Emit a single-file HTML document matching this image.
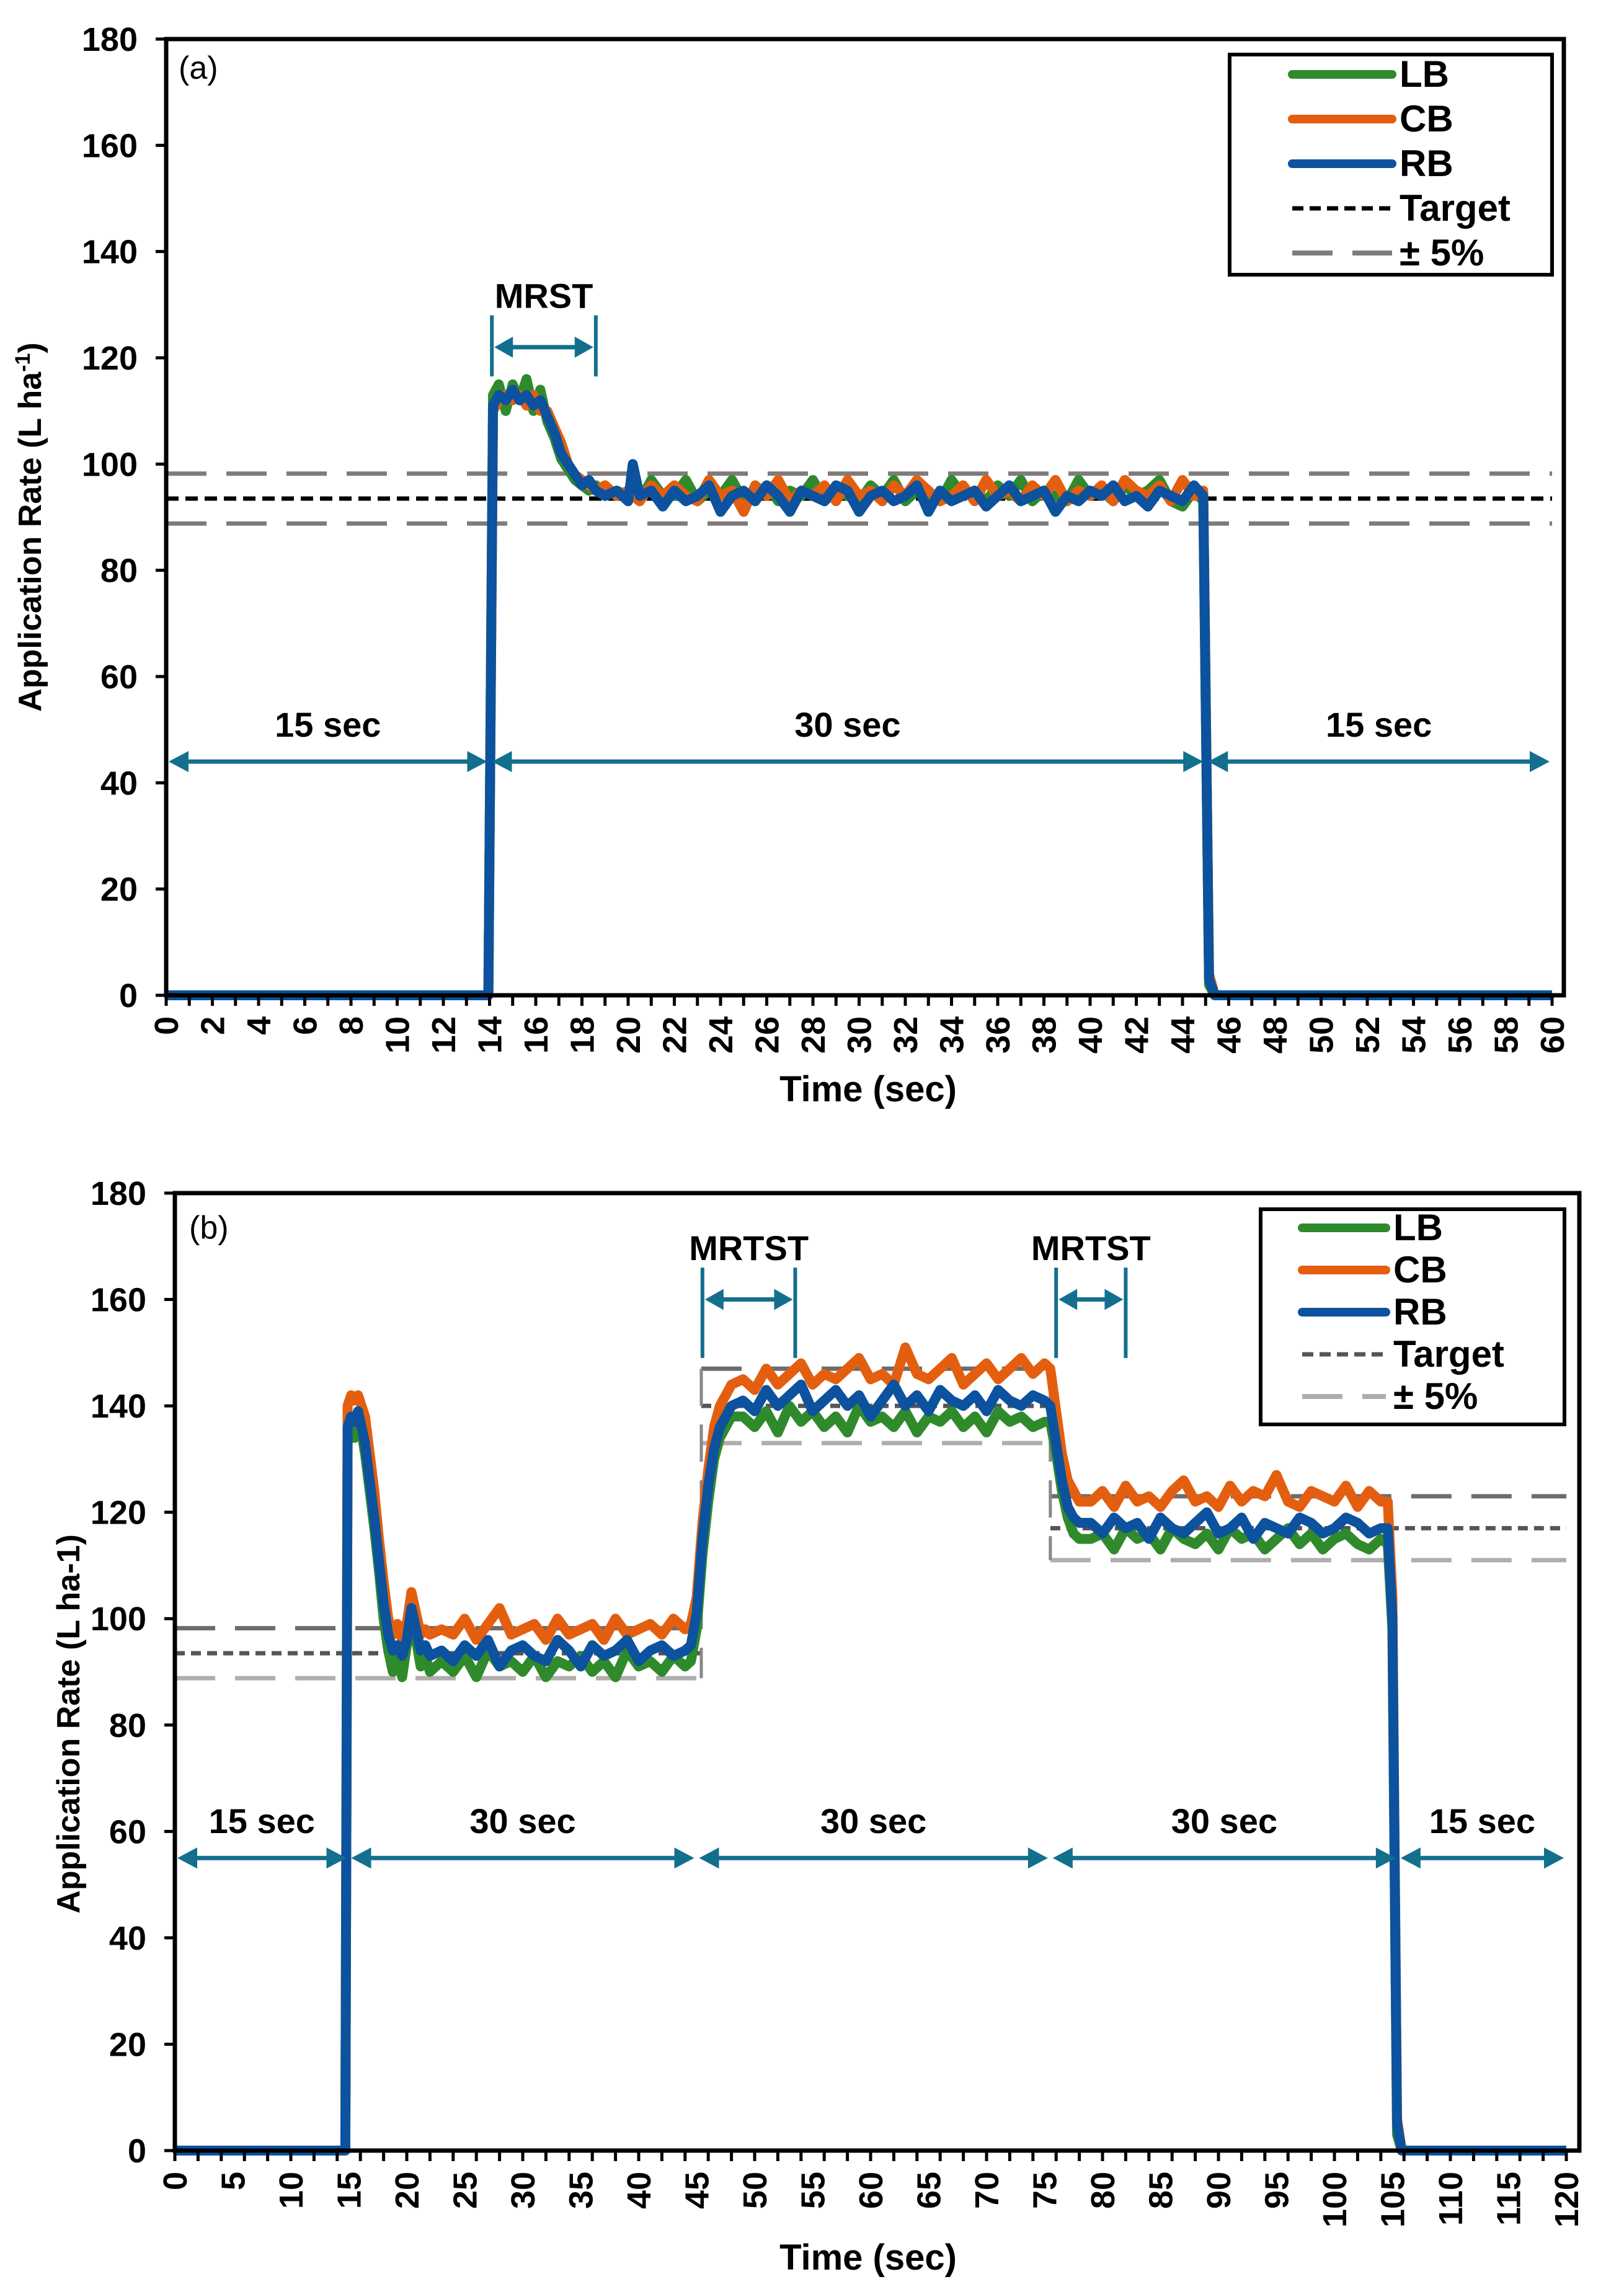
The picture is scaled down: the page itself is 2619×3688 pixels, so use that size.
<!DOCTYPE html>
<html><head><meta charset="utf-8"><style>
html,body{margin:0;padding:0;background:#fff}
svg{display:block}
.tk{font-family:"Liberation Sans Narrow","Liberation Sans",sans-serif;font-weight:bold;font-size:54px;fill:#000}
.tt{font-family:"Liberation Sans",sans-serif;font-weight:bold;font-size:52px;fill:#000}
.an{font-family:"Liberation Sans Narrow","Liberation Sans",sans-serif;font-weight:bold;font-size:56px;fill:#000}
</style></head><body>
<svg id="fig" width="2619" height="3688" viewBox="0 0 2619 3688" xmlns="http://www.w3.org/2000/svg"></svg>
<script>
// ---------- Chart (a) data ----------
const tA=[0,13.95,14.15,14.4,14.7, 15,15.3,15.6,15.9,16.2, 16.5,16.8,17.1,17.4,17.7, 18,18.3,18.6,19,19.5, 20,20.2,20.5,21,21.5,
22,22.5,23,23.5,24,24.5,25,25.5,26,26.5,27,27.5,28,28.5,29,29.5,30,30.5,31,31.5,32,32.5,33,33.5,34,34.5,35,35.5,36,36.5,37,37.5,38,38.5,39,39.5,40,40.5,41,41.5,42,42.5,43,43.5,44,44.5,
44.9,45.15,45.4,60];
const lbA=[0,0,113,115,110, 115,112,116,110,114, 108,105,101,99,97, 96,95,96,94,95, 94,96,93,97,94,
94,97,93,95,94,97,93,94,96,93, 95,94,97,93,95,94,93,96,94,97, 93,95,94,93,97,94,95,93,96,94, 97,93,95,94,93,97,94,95,93,96, 94,95,97,93,92,95,
93,2,0,0];
const cbA=[0,0,110,112,113, 112,113,111,113,110, 110,107,104,100,98, 97,96,95,96,94, 95,94,93,96,94,
96,94,93,97,94,95,91,96,94,97, 93,95,94,96,93,97,94,95,93,96, 94,97,95,93,94,96,93,97,94,95, 93,96,94,97,93,95,94,96,93,97, 95,94,96,93,97,94,
95,4,0,0];
const rbA=[0,0,111,113,112, 114,112,113,111,112, 109,106,102,100,98, 96,97,95,94,95, 93,100,94,95,92,
95,93,94,96,91,94,95,93,96,94, 91,95,94,93,96,95,91,94,95,93, 94,96,91,95,93,94,95,92,94,96, 93,94,95,91,94,93,95,94,96,93, 94,92,95,94,93,96,
94,3,0,0];
const refStartA=[0], refEndA=[60], targetA=[93.5], upperA=[98.2], lowerA=[88.8];
const yTicks=[0,20,40,60,80,100,120,140,160,180];
const xLabelsA=[0,2,4,6,8,10,12,14,16,18,20,22,24,26,28,30,32,34,36,38,40,42,44,46,48,50,52,54,56,58,60];

// ---------- Chart (b) data ----------
const tB=[0,14.7,14.9,15.2,15.5,15.8,16.1,16.4,16.8,17.2,17.6,18,18.4,18.8,19.2,19.6,20,20.4,20.8,21.2,21.6,22,
23,24,25,26,27,28,29,30,31,32,33,34,35,36,37,38,39,40,41,42,43,44,
44.5,45,45.5,46,46.5,47,47.5,48,
49,50,51,52,53,54,55,56,57,58,59,60,61,62,63,64,65,66,67,68,69,70,71,72,73,74,75,
75.5,76,76.5,77,77.5,78,
79,80,81,82,83,84,85,86,87,88,89,90,91,92,93,94,95,96,97,98,99,100,101,102,103,104,
104.6,105,105.4,105.8,120];
const lbB=[0,0,133,136,134,137,135,131,124,117,109,100,94,90,93,89,95,100,96,91,93,90,
92,90,93,89,94,91,92,90,93,89,92,91,93,90,92,89,94,91,92,90,93,91,
92,98,112,122,130,134,136,138,
138,136,139,135,140,137,139,136,138,135,140,137,138,136,139,135,138,137,139,136,138,135,139,137,138,136,137,
137,131,124,119,116,115,
115,116,113,117,115,116,113,117,115,114,116,113,117,115,116,113,115,117,114,116,113,115,116,114,113,115,
114,98,3,0,0];
const cbB=[0,0,140,142,141,142,140,138,131,124,115,107,100,97,99,96,99,105,101,97,98,97,
98,97,100,96,99,102,97,98,99,96,100,97,98,99,96,100,97,98,99,97,100,98,
99,104,118,128,136,140,142,144,
145,143,147,144,146,148,144,146,145,147,149,145,146,144,151,146,145,147,149,144,146,148,145,147,149,146,148,
147,139,131,126,124,122,
122,124,121,125,122,123,121,124,126,122,123,121,125,122,124,123,127,122,121,124,123,122,125,121,124,122,
122,104,6,0,0];
const rbB=[0,0,136,138,137,139,136,133,126,119,111,103,97,94,95,93,96,102,98,94,95,93,
94,92,95,93,96,91,94,95,93,92,96,94,91,95,93,94,96,92,94,95,93,94,
95,101,115,125,132,136,138,140,
141,139,143,140,142,144,139,141,143,140,142,138,141,144,140,142,139,143,141,140,142,139,143,141,140,142,141,
140,133,126,121,119,118,
118,116,119,117,118,115,119,117,116,118,120,116,117,119,115,118,117,116,119,118,116,117,119,118,116,117,
117,100,5,0,0];
const refStartB=[0,45.4,75.5], refEndB=[45.4,75.5,120];
const targetB=[93.5,140,117], upperB=[98.2,147,123], lowerB=[88.8,133,111];
const xLabelsB=[0,5,10,15,20,25,30,35,40,45,50,55,60,65,70,75,80,85,90,95,100,105,110,115,120];
const phaseBoundsA=[0,14,45,60], phaseTextA=["15 sec","30 sec","15 sec"];
const phaseBoundsB=[0,15,45,75.5,105.5,120], phaseTextB=["15 sec","30 sec","30 sec","30 sec","15 sec"];

const NS="http://www.w3.org/2000/svg";
const svg=document.getElementById('fig');
const TEAL="#136f8e";
function mk(tag,attrs,parent){const e=document.createElementNS(NS,tag);for(const k in attrs)e.setAttribute(k,attrs[k]);(parent||svg).appendChild(e);return e;}

function chart(cfg){
  const g=mk('g',{});
  
  
  const X=v=>cfg.x0+(v-cfg.xmin)/(cfg.xmax-cfg.xmin)*(cfg.xE-cfg.x0);
  const Y=v=>cfg.y0-(v/180)*(cfg.y0-cfg.yTop);
  for(let i=0;i<cfg.refS.length;i++){
    const lines=[[cfg.up[i],cfg.upCol,cfg.upDash,'upper-limit-line'],[cfg.lo[i],cfg.loCol,cfg.loDash,'lower-limit-line'],[cfg.tg[i],cfg.tgCol,cfg.tgDash,'target-line']];
    for(const L of lines){
      const l=mk('line',{x1:X(cfg.refS[i]),x2:X(cfg.refE[i]),y1:Y(L[0]),y2:Y(L[0]),stroke:L[1],'stroke-width':7,'stroke-dasharray':L[2]},g);
      
      
    }
    if(i>0){
      const v=mk('line',{x1:X(cfg.refS[i]),x2:X(cfg.refS[i]),y1:Y(Math.max(cfg.up[i],cfg.up[i-1])),y2:Y(Math.min(cfg.lo[i],cfg.lo[i-1])),stroke:'#888','stroke-width':5,'stroke-dasharray':'60 30'},g);
      
      
    }
  }
  const ser=[[cfg.lb,'#2f8a2c','series-lb'],[cfg.cb,'#e35f0f','series-cb'],[cfg.rb,'#0c529e','series-rb']];
  for(const s of ser){
    let d='';
    for(let i=0;i<cfg.t.length;i++){d+=(i?'L':'M')+X(cfg.t[i]).toFixed(1)+' '+Y(s[0][i]).toFixed(1);}
    const p=mk('path',{d:d,fill:'none',stroke:s[1],'stroke-width':16,'stroke-linejoin':'round'},g);
    
    
  }
  const fr=mk('rect',{x:cfg.x0,y:cfg.yTop,width:cfg.xR-cfg.x0,height:cfg.y0-cfg.yTop,fill:'none',stroke:'#000','stroke-width':7},g);
  
  
  for(const v of yTicks){
    const t=mk('line',{x1:cfg.x0-17,x2:cfg.x0,y1:Y(v),y2:Y(v),stroke:'#000','stroke-width':5},g);
    
    
    const tx=mk('text',{x:cfg.yLabX,y:Y(v)+19,'text-anchor':'end',class:'tk'},g);
    tx.textContent=v;
    
    
  }
  for(let v=cfg.xmin;v<=cfg.xmax+0.001;v+=cfg.tickStep){
    const t=mk('line',{x1:X(v),x2:X(v),y1:cfg.y0,y2:cfg.y0+17,stroke:'#000','stroke-width':5},g);
    
    
  }
  for(const v of cfg.xLabels){
    const tx=mk('text',{x:0,y:0,'text-anchor':'end',class:'tk',transform:`translate(${X(v)+19},${cfg.y0+34}) rotate(-90)`},g);
    tx.textContent=v;
    
    
  }
  const xt=mk('text',{x:1400,y:cfg.xTitleY,'text-anchor':'middle',class:'tk',style:'font-size:58px'},g);
  xt.textContent='Time (sec)';
  
  
  const yt=mk('text',{x:0,y:0,'text-anchor':'middle',class:'tt',transform:`translate(${cfg.yTitleX},${cfg.yTitleY}) rotate(-90)`},g);
  yt.innerHTML=cfg.yTitle;
  
  
  const pl=mk('text',{x:cfg.panelX,y:cfg.panelY,style:'font-family:"Liberation Sans Narrow","Liberation Sans",sans-serif;font-size:52px'},g);
  pl.textContent=cfg.panel;
  
  
  for(let i=0;i<cfg.pb.length-1;i++){
    const a=X(cfg.pb[i])+4,b=X(cfg.pb[i+1])-4,y=Y(cfg.arrowV);
    const ar=mk('g',{},g);
    
    
    mk('line',{x1:a+20,x2:b-20,y1:y,y2:y,stroke:TEAL,'stroke-width':7},ar);
    mk('path',{d:`M${a} ${y}L${a+32} ${y-17}L${a+32} ${y+17}Z`,fill:TEAL},ar);
    mk('path',{d:`M${b} ${y}L${b-32} ${y-17}L${b-32} ${y+17}Z`,fill:TEAL},ar);
    const tx=mk('text',{x:(a+b)/2,y:y-40,'text-anchor':'middle',class:'an'},g);
    tx.textContent=cfg.pt[i];
    
    
  }
  for(const m of cfg.mr){
    const a=X(m[0]),b=X(m[1]),yT=Y(m[2]),yB=Y(m[3]),ym=Y(m[4]);
    const br=mk('g',{},g);
    
    
    mk('line',{x1:a,x2:a,y1:yT,y2:yB,stroke:TEAL,'stroke-width':6},br);
    mk('line',{x1:b,x2:b,y1:yT,y2:yB,stroke:TEAL,'stroke-width':6},br);
    mk('line',{x1:a+20,x2:b-20,y1:ym,y2:ym,stroke:TEAL,'stroke-width':7},br);
    mk('path',{d:`M${a+4} ${ym}L${a+34} ${ym-17}L${a+34} ${ym+17}Z`,fill:TEAL},br);
    mk('path',{d:`M${b-4} ${ym}L${b-34} ${ym-17}L${b-34} ${ym+17}Z`,fill:TEAL},br);
    const tx=mk('text',{x:(a+b)/2,y:yT-12,'text-anchor':'middle',class:'an'},g);
    tx.textContent=m[5];
    
    
  }
  const L=cfg.leg;
  const lg=mk('g',{},g);
  
  
  mk('rect',{x:L.x,y:L.y,width:L.w,height:L.h,fill:'#fff',stroke:'#000','stroke-width':6},lg);
  const items=[['LB','#2f8a2c',null,14],['CB','#e35f0f',null,14],['RB','#0c529e',null,14],['Target',cfg.tgCol,'18 10',7],['\u00b1 5%',cfg.legPm,'65 32',8]];
  items.forEach((it,i)=>{
    const yy=L.y+L.r0+i*L.dy;
    const e=mk('g',{},lg);
    
    
    const ln=mk('line',{x1:L.lx1,x2:L.lx2,y1:yy,y2:yy,stroke:it[1],'stroke-width':it[3],'stroke-linecap':it[2]?'butt':'round'},e);
    if(it[2])ln.setAttribute('stroke-dasharray',it[2]);
    const tx=mk('text',{x:L.lx2+12,y:yy+20,class:'an',style:'font-size:60px'},e);
    tx.textContent=it[0];
  });
}

chart({name:'chart-a',t:tA,lb:lbA,cb:cbA,rb:rbA,xmin:0,xmax:60,x0:268,xE:2503,xR:2522,y0:1605,yTop:63,
  refS:refStartA,refE:refEndA,tg:targetA,up:upperA,lo:lowerA,tgCol:'#000',tgDash:'20 11',upCol:'#7f7b7b',upDash:'65 32',loCol:'#7f7b7b',loDash:'65 32',
  tickStep:1,xLabels:xLabelsA,yLabX:222,xTitleY:1776,yTitleX:66,yTitleY:850,
  yTitle:'Application Rate (L ha<tspan dy="-18" style="font-size:34px">-1</tspan><tspan dy="18">)</tspan>',
  panel:'(a)',panelX:288,panelY:127,pb:phaseBoundsA,pt:phaseTextA,arrowV:44,
  mr:[[14.1,18.6,128,116.5,122,'MRST']],
  leg:{x:1983,y:88,w:520,h:355,r0:32,dy:72,lx1:2084,lx2:2245},legPm:'#7f7b7b'});

chart({name:'chart-b',t:tB,lb:lbB,cb:cbB,rb:rbB,xmin:0,xmax:120,x0:282,xE:2526,xR:2547,y0:3468,yTop:1924,
  refS:refStartB,refE:refEndB,tg:targetB,up:upperB,lo:lowerB,tgCol:'#555',tgDash:'16 10',upCol:'#6e6b6b',upDash:'65 32',loCol:'#b0adad',loDash:'65 32',
  tickStep:2,xLabels:xLabelsB,yLabX:236,xTitleY:3660,yTitleX:128,yTitleY:2780,
  yTitle:'Application Rate (L ha-1)',
  panel:'(b)',panelX:305,panelY:1997,pb:phaseBoundsB,pt:phaseTextB,arrowV:55,
  mr:[[45.5,53.5,166,149,160,'MRTST'],[76,82,166,149,160,'MRTST']],
  leg:{x:2033,y:1950,w:490,h:347,r0:30,dy:68,lx1:2100,lx2:2235},legPm:'#b0adad'});
</script>
</body></html>
